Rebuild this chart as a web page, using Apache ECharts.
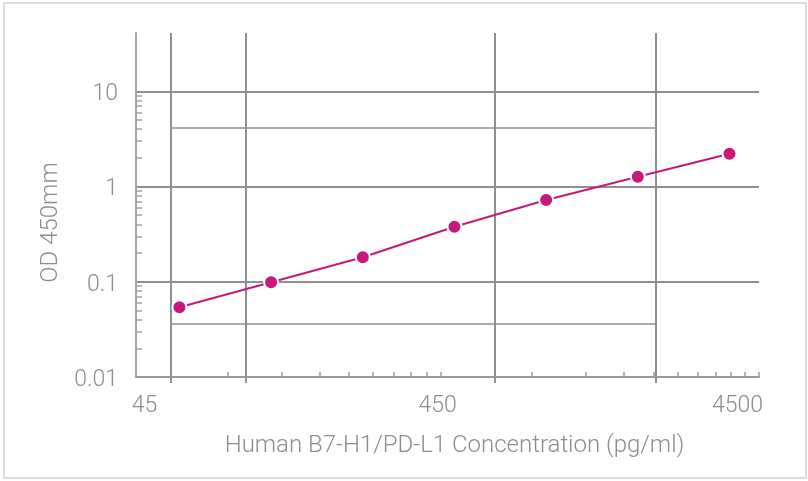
<!DOCTYPE html>
<html><head><meta charset="utf-8">
<script src="https://cdn.jsdelivr.net/npm/echarts@6/dist/echarts.min.js"></script>
<style>html,body{margin:0;padding:0;background:#fff}#c{width:808px;height:481px}</style>
</head><body><div id="c"></div>
<script>
// ---- data ----
const concentrations = [62.5, 125, 250, 500, 1000, 2000, 4000];
const odValues = [0.054, 0.099, 0.181, 0.379, 0.724, 1.27, 2.21];
const xLabelValues = [45, 450, 4500];
const yLabelValues = [0.01, 0.1, 1, 10];
const xMinorTicks = [90, 135, 180, 225, 270, 315, 360, 405, 450, 900, 1350, 1800, 2250, 2700, 3150, 3600, 4050, 4500, 5000];
const yMinorTicks = [0.02, 0.03, 0.04, 0.05, 0.06, 0.07, 0.08, 0.09, 0.2, 0.3, 0.4, 0.5, 0.6, 0.7, 0.8, 0.9, 2, 3, 4, 5, 6, 7, 8, 9];
const xGridValues = [58.7, 103, 676, 2295];
const yGridValues = [0.1, 1, 10];
const boxLevels = [4.18, 0.0365];
const boxSpan = [58.7, 2295];
const xRange = [45, 5000];
const yRange = [0.01, 41];

const textColor = '#8d8d8d';
const lineColor = '#8f8f8f';
const font = 'Roboto';

const chart = echarts.init(document.getElementById('c'), null, {renderer: 'canvas'});

const baseLabel = {color: textColor, fontSize: 23, fontFamily: font, fontWeight: 300};
const xLabelRich = {
  a: Object.assign({padding: [0, 0, 0, 17]}, baseLabel),
  b: Object.assign({padding: [0, 6, 0, 0]}, baseLabel),
  c: Object.assign({padding: [0, 15, 0, 0]}, baseLabel)
};
const richKeys = ['a', 'b', 'c'];
const yLabelRich = {y: Object.assign({padding: [6, 0, 0, 0]}, baseLabel)};

const option = {
  animation: false,
  backgroundColor: '#fff',
  grid: {left: 136, right: 49, top: 33, bottom: 104, containLabel: false},
  graphic: [{
    type: 'rect', silent: true,
    shape: {x: 4, y: 3, width: 802, height: 475},
    style: {fill: 'none', stroke: '#d2d2d2', lineWidth: 1.5}
  }],
  xAxis: [{
    type: 'log', logBase: 10, min: xRange[0], max: xRange[1],
    axisLine: {show: true, lineStyle: {color: '#9a9a9a', width: 2}},
    axisTick: {show: true, customValues: xMinorTicks, inside: true, length: 5, lineStyle: {color: '#9a9a9a', width: 1.5}},
    axisLabel: {
      show: true, customValues: xLabelValues, margin: 18,
      formatter: function (v) {
        const i = xLabelValues.findIndex(x => Math.abs(x - v) / x < 1e-6);
        return '{' + richKeys[Math.max(i, 0)] + '|' + String(Math.round(v)) + '}';
      },
      rich: xLabelRich, ...baseLabel
    },
    splitLine: {show: false},
    name: 'Human B7-H1/PD-L1 Concentration (pg/ml)',
    nameLocation: 'middle', nameGap: 57,
    nameTextStyle: {color: textColor, fontSize: 24, fontFamily: font, fontWeight: 300, padding: [0, 0, 0, 14]}
  }, {
    type: 'log', logBase: 10, min: xRange[0], max: xRange[1], position: 'bottom',
    axisLine: {show: false},
    axisTick: {show: true, customValues: xGridValues, inside: false, length: 6, lineStyle: {color: lineColor, width: 2}},
    axisLabel: {show: false},
    splitLine: {show: true, lineStyle: {color: lineColor, width: 2}}
  }],
  yAxis: [{
    type: 'log', logBase: 10, min: yRange[0], max: yRange[1],
    axisLine: {show: true, lineStyle: {color: '#a3a3a3', width: 2}},
    axisTick: {show: true, customValues: yMinorTicks, inside: true, length: 6, lineStyle: {color: '#a3a3a3', width: 1.5}},
    axisLabel: {
      show: true, customValues: yLabelValues, margin: 18,
      formatter: function (v) { return '{y|' + String(Number(v.toPrecision(6))) + '}'; },
      rich: yLabelRich, ...baseLabel
    },
    splitLine: {show: false},
    name: 'OD 450mm', nameLocation: 'middle', nameGap: 72, nameRotate: 90,
    nameTextStyle: {color: textColor, fontSize: 24, fontFamily: font, fontWeight: 300, padding: [0, 35, 0, 0]}
  }, {
    type: 'log', logBase: 10, min: yRange[0], max: yRange[1], position: 'left',
    axisLine: {show: false},
    axisTick: {show: false, customValues: yGridValues},
    axisLabel: {show: false},
    splitLine: {show: true, lineStyle: {color: lineColor, width: 2}}
  }],
  series: [{
    type: 'line',
    xAxisIndex: 0, yAxisIndex: 0,
    data: concentrations.map((x, i) => [x, odValues[i]]),
    symbol: 'circle', symbolSize: 14,
    lineStyle: {color: '#C8187C', width: 2},
    itemStyle: {color: '#C8187C', borderColor: '#fff', borderWidth: 2},
    z: 5,
    markLine: {
      silent: true, symbol: 'none', label: {show: false},
      lineStyle: {color: lineColor, width: 1.6, type: 'solid'},
      data: boxLevels.map(v => [{coord: [boxSpan[0], v]}, {coord: [boxSpan[1], v]}])
    }
  }]
};
chart.setOption(option);
</script></body></html>
